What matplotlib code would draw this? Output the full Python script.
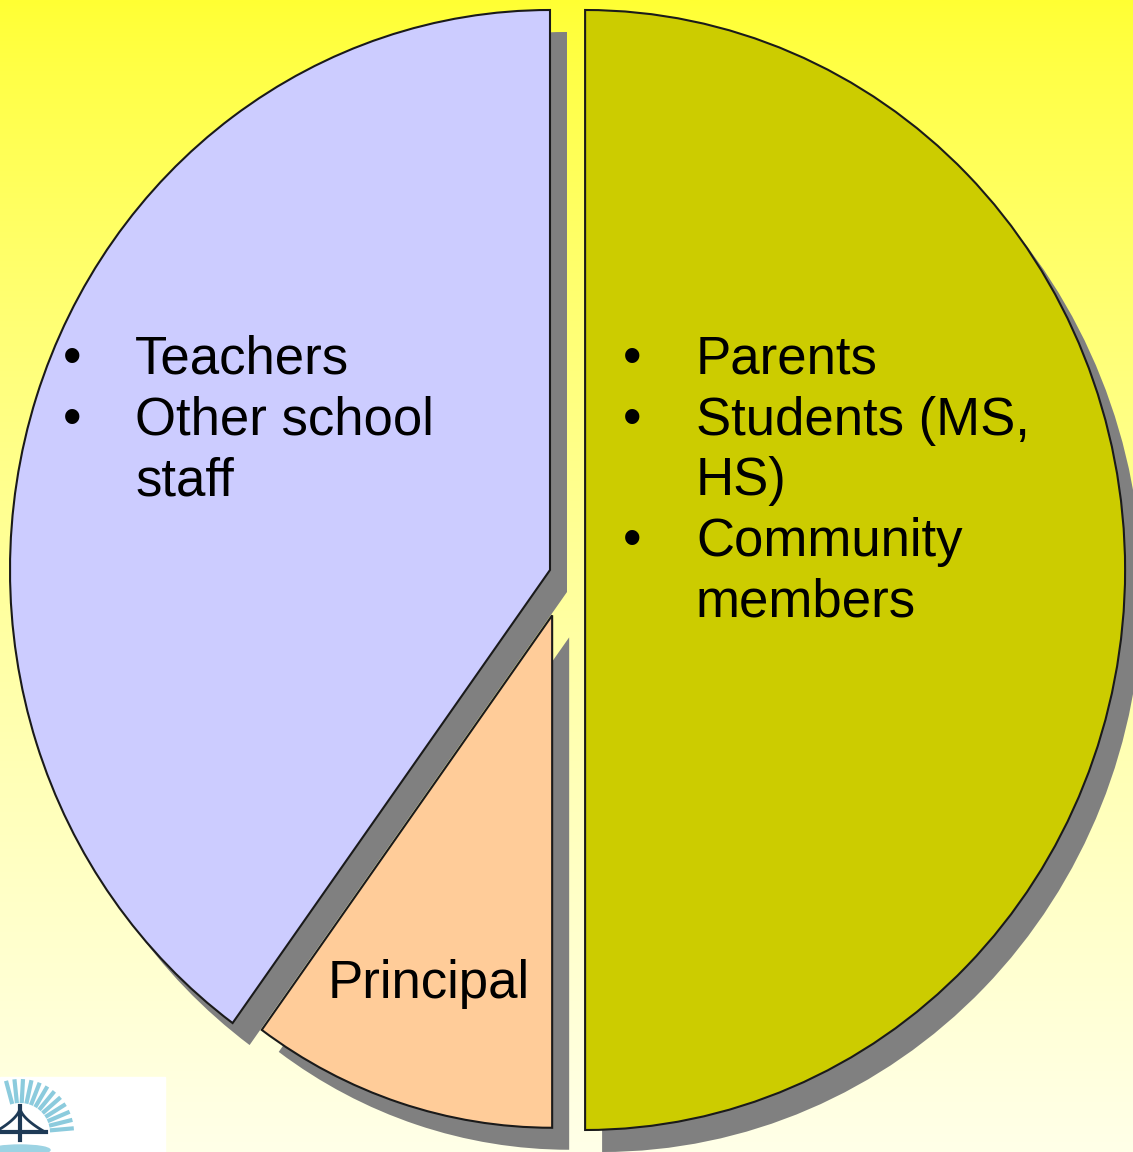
import numpy as np
import matplotlib.pyplot as plt
from matplotlib.patches import Rectangle, Ellipse
from matplotlib.transforms import ScaledTranslation

plt.rcParams['font.family'] = ['Liberation Sans', 'DejaVu Sans']

# slices, clockwise from 12 o'clock
slices = ['Parents / Students / Community', 'Principal', 'Teachers / Other staff']
shares = [50, 10, 40]
slice_colors = ['#CCCC00', '#FFCC99', '#CCCCFF']

# bullet text inside the two big slices
left_items = [['Teachers'], ['Other school', 'staff']]
right_items = [['Parents'], ['Students (MS,', 'HS)'], ['Community', 'members']]

W, H = 1133, 1152
fig = plt.figure(figsize=(W / 100, H / 100), dpi=100)

# background: yellow gradient
bg = fig.add_axes([0, 0, 1, 1])
grad = np.linspace(0, 1, 256)[:, None]
top = np.array([255, 255, 51]) / 255
bottom = np.array([255, 255, 232]) / 255
img = top + (bottom - top) * grad[:, :, None] ** 0.8
bg.imshow(img, extent=(0, W, H, 0), aspect='auto', interpolation='bilinear')
bg.set_xlim(0, W)
bg.set_ylim(H, 0)
bg.axis('off')

# pie axes: 1 unit = 540 px across, 560 px down (slightly oval pie)
pax = fig.add_axes([0, 0, 1, 1])
pax.patch.set_alpha(0)
cx, cy, rx, ry = 550, 570, 540, 560
explode = [0.065, 0, 0]

shadow, _ = pax.pie(shares, startangle=90, counterclock=False,
                    colors=['#808080'] * 3, explode=explode,
                    wedgeprops=dict(linewidth=0))
wedges, _ = pax.pie(shares, startangle=90, counterclock=False,
                    colors=slice_colors, explode=explode,
                    wedgeprops=dict(edgecolor='#1a1a1a', linewidth=1.5))

# principal slice sits lower and a little smaller
for w in (shadow[1], wedges[1]):
    w.set_center((0.004, -0.081))
    w.set_radius(0.915)

off = ScaledTranslation(17 / 100, -22 / 100, fig.dpi_scale_trans)
for w in shadow:
    w.set_transform(pax.transData + off)
    w.set_zorder(1)
for w in wedges:
    w.set_zorder(2)

pax.set_aspect('auto')
pax.set_xlim((0 - cx) / rx, (W - cx) / rx)
pax.set_ylim(-(H - cy) / ry, cy / ry)
pax.axis('off')

# text overlay in pixel coordinates
tax = fig.add_axes([0, 0, 1, 1])
tax.patch.set_alpha(0)
tax.set_xlim(0, W)
tax.set_ylim(H, 0)
tax.axis('off')

fs = 38
pitch = 60.7


def bullets(items, xb, xt, y0):
    y = y0
    for item in items:
        tax.text(xb, y, '\u2022', fontsize=fs, ha='center', va='baseline')
        for line in item:
            tax.text(xt, y, line, fontsize=fs, ha='left', va='baseline')
            y += pitch


bullets(left_items, 72, 135, 374)
bullets(right_items, 632, 696, 374)
tax.text(328, 998, 'Principal', fontsize=fs, ha='left', va='baseline')

# small logo, bottom left
tax.add_patch(Rectangle((0, 1077), 165, 75, color='white', zorder=3))
for a in np.linspace(5, 105, 12):
    t = np.radians(a)
    tax.plot([20 + 30 * np.cos(t), 20 + 54 * np.cos(t)],
             [1133 - 30 * np.sin(t), 1133 - 54 * np.sin(t)],
             color='#8CCBDD', lw=3, zorder=4, solid_capstyle='butt')
tax.plot([20, 20], [1106, 1140], color='#1E3A56', lw=3, zorder=5)
xs = np.linspace(0, 45, 40)
tax.plot(xs, 1108 + 24 * (np.abs(xs - 20) / 25) ** 0.6, color='#1E3A56', lw=2, zorder=5)
tax.plot([0, 46], [1132, 1132], color='#1E3A56', lw=3, zorder=5)
tax.add_patch(Ellipse((20, 1150), 60, 10, color='#9CD3E3', zorder=4))

fig.savefig('out.png', dpi=100)
